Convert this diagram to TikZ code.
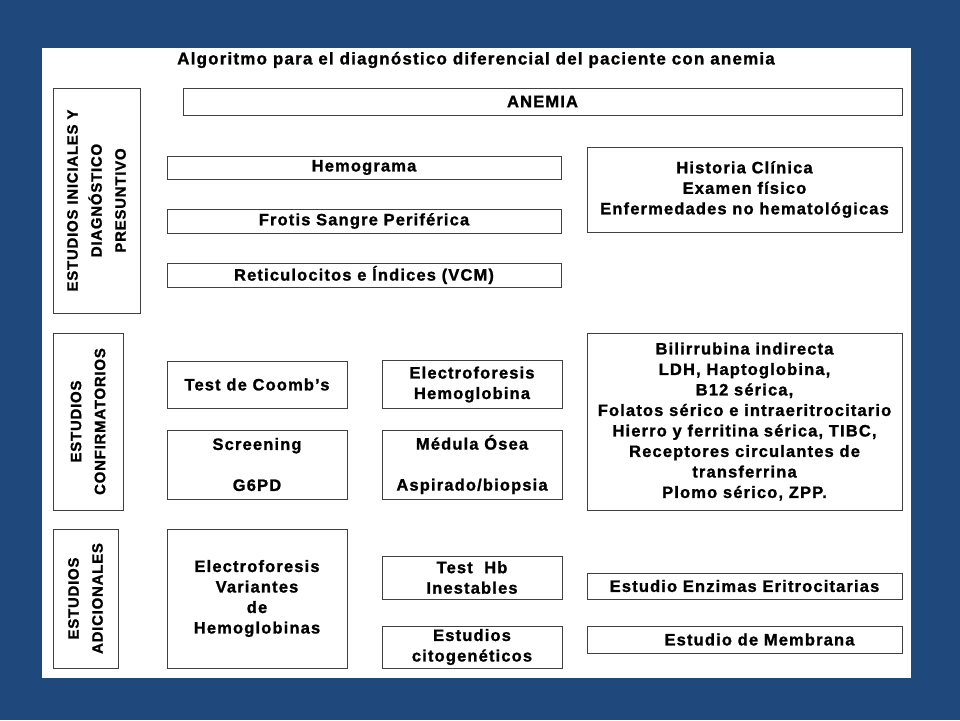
\documentclass[tikz,border=0pt]{standalone}
\usepackage{fontspec}
\setmainfont[LetterSpace=7, BoldFeatures={FakeBold=1.2}]{Liberation Sans}
\definecolor{slideblue}{RGB}{31,73,125}

\begin{document}
\begin{tikzpicture}[
    x=1pt, y=-1pt,
    every node/.style={font=\fontsize{16.5pt}{20.5pt}\selectfont\bfseries, align=center, inner sep=0pt},
    box/.style={draw=black!75, line width=1pt},
    sidebox/.style={box, rotate=90, font=\fontsize{15pt}{24pt}\selectfont\bfseries\addfontfeatures{LetterSpace=5}},
    sz/.style 2 args={minimum width=#1pt, minimum height=#2pt}
]
    % slide and page
    \fill[slideblue] (0,0) rectangle (960,720);
    \fill[white] (42,48) rectangle (911,678);

    \node[font=\fontsize{17pt}{20pt}\selectfont\bfseries] (title) at (476,60) {Algoritmo para el diagnóstico diferencial del paciente con anemia};
    \node[box, sz={719}{27}] (anemia) at (542.5,101.5) {ANEMIA};

    % estudios iniciales
    \node[sidebox, sz={225}{87}] (iniciales) at (96.5,200.5) {ESTUDIOS INICIALES Y\\DIAGNÓSTICO\\PRESUNTIVO};
    \node[box, sz={394}{23}] (hemo) at (364,167.5) {Hemograma};
    \node[box, sz={394}{24}] (frotis) at (364,221) {Frotis Sangre Periférica};
    \node[box, sz={394}{24}] (retic) at (364,275) {Reticulocitos e Índices (VCM)};
    \node[box, sz={315}{85}] (historia) at (744.5,189.5) {Historia Clínica\\Examen físico\\Enfermedades no hematológicas};

    % estudios confirmatorios
    \node[sidebox, sz={177}{70}] (confirm) at (88,421.5) {ESTUDIOS\\CONFIRMATORIOS};
    \node[box, sz={180}{47}] (coombs) at (257,384.5) {Test de Coomb's};
    \node[box, sz={180}{69}] (screening) at (257,464.5) {Screening\\ \\G6PD};
    \node[box, sz={180}{48}] (electhb) at (472,384.5) {Electroforesis\\Hemoglobina};
    \node[box, sz={180}{69}] (medula) at (472,464.5) {Médula Ósea\\ \\Aspirado/biopsia};
    \node[box, sz={315}{177}] (bioquim) at (744.5,421.5) {Bilirrubina indirecta\\LDH, Haptoglobina,\\B12 sérica,\\Folatos sérico e intraeritrocitario\\Hierro y ferritina sérica, TIBC,\\Receptores circulantes de\\transferrina\\Plomo sérico, ZPP.};

    % estudios adicionales
    \node[sidebox, sz={139}{65}] (adicion) at (85.5,598.5) {ESTUDIOS\\ADICIONALES};
    \node[box, sz={180}{139}] (variantes) at (257,598.5) {Electroforesis\\Variantes\\de\\Hemoglobinas};
    \node[box, sz={180}{43}] (inestab) at (472,577.5) {Test~~Hb\\Inestables};
    \node[box, sz={180}{42}] (citogen) at (472,647) {Estudios\\citogenéticos};
    \node[box, sz={315}{26}] (enzimas) at (744.5,586) {Estudio Enzimas Eritrocitarias};
    \node[box, sz={315}{27}] (membrana) at (744.5,639.5) {\hspace*{30pt}Estudio de Membrana};
\end{tikzpicture}
\end{document}
